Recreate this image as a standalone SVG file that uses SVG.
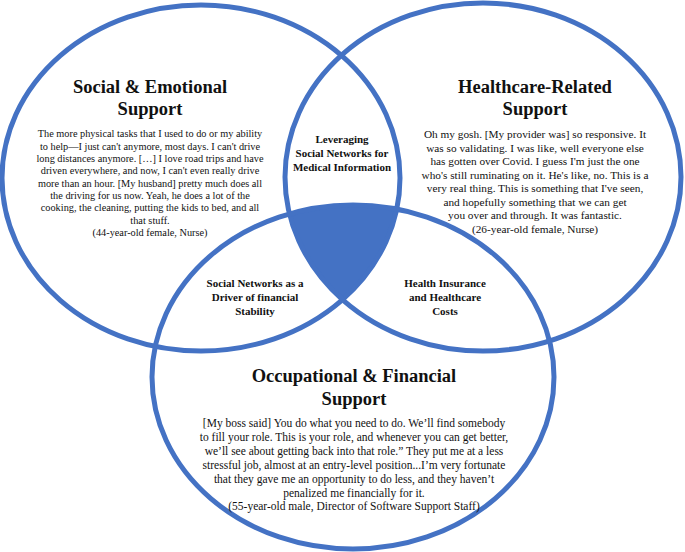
<svg xmlns="http://www.w3.org/2000/svg" width="685" height="552" viewBox="0 0 685 552">
<style>
.c{fill:none;stroke:#4472C4;stroke-width:5}
text{font-family:"Liberation Serif","Times New Roman",serif;fill:#111;text-anchor:middle}
.t{font-size:18.5px;font-weight:bold}
.b{font-size:10.3px}
.br{font-size:11.3px}
.bb{font-size:11.5px}
.l{font-size:11px;font-weight:bold}
</style>
<defs>
<clipPath id="cl"><ellipse cx="201" cy="178" rx="199" ry="173"/></clipPath>
<clipPath id="cr"><ellipse cx="483" cy="177" rx="198" ry="174"/></clipPath>
</defs>
<rect width="685" height="552" fill="#fff"/>
<g id="center" clip-path="url(#cl)"><g clip-path="url(#cr)"><ellipse cx="353" cy="377" rx="201" ry="172" fill="#4472C4"/></g></g>
<g id="circles">
<ellipse id="left" class="c" cx="201" cy="178" rx="199" ry="173"/>
<ellipse id="right" class="c" cx="483" cy="177" rx="198" ry="174"/>
<ellipse id="bottom" class="c" cx="353" cy="377" rx="201" ry="172"/>
</g>
<g id="social">
<text class="t" x="150" y="93">Social &amp; Emotional</text>
<text class="t" x="150" y="115">Support</text>
<text class="b" x="150" y="137">The more physical tasks that I used to do or my ability</text>
<text class="b" x="150" y="149.5">to help—I just can't anymore, most days. I can't drive</text>
<text class="b" x="150" y="162">long distances anymore. […] I love road trips and have</text>
<text class="b" x="150" y="174">driven everywhere, and now, I can't even really drive</text>
<text class="b" x="150" y="186.5">more than an hour. [My husband] pretty much does all</text>
<text class="b" x="150" y="199">the driving for us now. Yeah, he does a lot of the</text>
<text class="b" x="150" y="211">cooking, the cleaning, putting the kids to bed, and all</text>
<text class="b" x="150" y="223.5">that stuff.</text>
<text class="b" x="150" y="236">(44-year-old female, Nurse)</text>
</g>
<g id="health">
<text class="t" x="535" y="93">Healthcare-Related</text>
<text class="t" x="535" y="115">Support</text>
<text class="br" x="535" y="138">Oh my gosh. [My provider was] so responsive. It</text>
<text class="br" x="535" y="151.5">was so validating. I was like, well everyone else</text>
<text class="br" x="535" y="165">has gotten over Covid. I guess I'm just the one</text>
<text class="br" x="535" y="178.5">who's still ruminating on it. He's like, no. This is a</text>
<text class="br" x="535" y="192">very real thing. This is something that I've seen,</text>
<text class="br" x="535" y="205.5">and hopefully something that we can get</text>
<text class="br" x="535" y="219">you over and through. It was fantastic.</text>
<text class="br" x="535" y="232.5">(26-year-old female, Nurse)</text>
</g>
<g id="leveraging">
<text class="l" x="342" y="143">Leveraging</text>
<text class="l" x="342" y="157">Social Networks for</text>
<text class="l" x="342" y="171">Medical Information</text>
</g>
<g id="drivers">
<text class="l" x="255" y="287">Social Networks as a</text>
<text class="l" x="255" y="301">Driver of financial</text>
<text class="l" x="255" y="315">Stability</text>
</g>
<g id="insurance">
<text class="l" x="445" y="287">Health Insurance</text>
<text class="l" x="445" y="301">and Healthcare</text>
<text class="l" x="445" y="315">Costs</text>
</g>
<g id="occupational">
<text class="t" x="354" y="382">Occupational &amp; Financial</text>
<text class="t" x="354" y="405">Support</text>
<text class="bb" x="354" y="427">[My boss said] You do what you need to do. We’ll find somebody</text>
<text class="bb" x="354" y="441">to fill your role. This is your role, and whenever you can get better,</text>
<text class="bb" x="354" y="455">we’ll see about getting back into that role.” They put me at a less</text>
<text class="bb" x="354" y="469">stressful job, almost at an entry-level position...I’m very fortunate</text>
<text class="bb" x="354" y="483">that they gave me an opportunity to do less, and they haven’t</text>
<text class="bb" x="354" y="496.5">penalized me financially for it.</text>
<text class="bb" x="354" y="510">(55-year-old male, Director of Software Support Staff)</text>
</g>
</svg>
